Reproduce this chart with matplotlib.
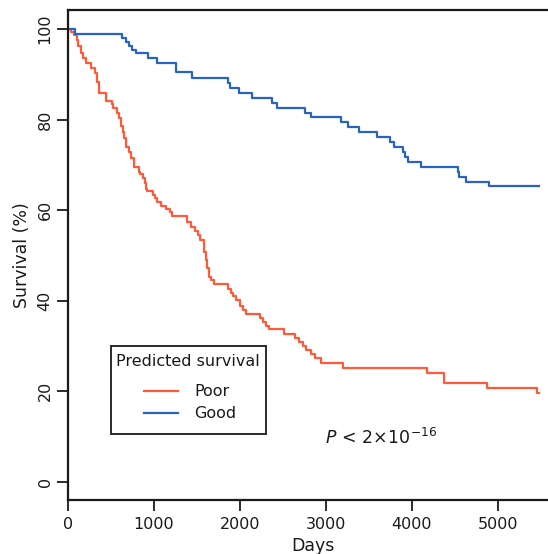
import matplotlib
matplotlib.use('Agg')
import matplotlib.pyplot as plt
import matplotlib.patches as mpatches
from matplotlib.lines import Line2D

# Kaplan-Meier curves (days, survival %)
good_days = [0, 81, 628, 669, 715, 750, 785, 930, 1035, 1256, 1442, 1860, 1884,
             1992, 2143, 2376, 2434, 2756, 2822, 3174, 3256, 3387, 3590, 3744,
             3791, 3899, 3919, 3950, 4105, 4531, 4550, 4624, 4895, 5480]
good_surv = [100, 99.0, 98.0, 97.1, 96.2, 95.4, 94.6, 93.5, 92.5, 90.4, 89.1,
             88.0, 86.9, 85.8, 84.8, 83.6, 82.6, 81.5, 80.5, 79.4, 78.4, 77.2,
             76.2, 75.1, 74.0, 72.8, 71.8, 70.6, 69.6, 68.5, 67.4, 66.3, 65.3, 65.3]

poor_days = [0, 31, 70, 101, 120, 148, 178, 206, 264, 314, 341, 364, 442, 508,
             527, 564, 593, 622, 640, 651, 678, 713, 738, 767, 831, 843, 869,
             890, 907, 922, 994, 1017, 1038, 1076, 1143, 1186, 1213, 1378, 1428,
             1477, 1508, 1535, 1576, 1585, 1605, 1620, 1640, 1663, 1692, 1866,
             1895, 1924, 1959, 2000, 2038, 2073, 2227, 2267, 2308, 2343, 2512,
             2645, 2690, 2727, 2773, 2820, 2872, 2942, 3194, 4169, 4378, 4878,
             5459, 5477]
poor_surv = [100, 99.3, 98.7, 97.6, 96.2, 94.7, 93.5, 92.5, 91.3, 90.2, 88.3,
             85.9, 84.0, 83.4, 82.5, 81.4, 80.3, 78.5, 77.2, 75.9, 74.0, 72.9,
             71.5, 69.6, 68.5, 68.0, 67.0, 66.0, 64.7, 64.2, 63.4, 62.6, 61.8,
             61.0, 60.3, 59.5, 58.7, 57.3, 56.3, 55.5, 54.5, 53.4, 53.0, 50.8,
             49.0, 47.2, 45.3, 44.5, 43.6, 42.6, 41.7, 41.1, 40.2, 38.9, 38.0,
             37.1, 36.1, 35.3, 34.5, 33.7, 32.7, 31.7, 30.9, 30.0, 29.1, 28.3,
             27.3, 26.2, 25.1, 24.0, 21.9, 20.7, 19.6, 19.6]

x_ticks = [0, 1000, 2000, 3000, 4000, 5000]
y_ticks = [0, 20, 40, 60, 80, 100]

RED = '#FF5A3A'
BLUE = '#2A62C0'
INK = '#1a1a1a'
W, H = 548, 554

plt.rcParams['font.family'] = 'DejaVu Sans'

fig = plt.figure(figsize=(W / 100, H / 100), dpi=100)
fig.patch.set_facecolor('white')

# plot region: x 68..558 px, y 10..500 px (right edge runs off the image)
ax = fig.add_axes([68 / W, 1 - 500 / H, 490 / W, 490 / H])
ax.set_facecolor('white')

ax.step(poor_days, poor_surv, where='post', color=RED, lw=1.6)
ax.step(good_days, good_surv, where='post', color=BLUE, lw=1.6)

ax.set_xlim(0, 5698)
ax.set_ylim(-4.0, 104.2)

ax.set_xticks(x_ticks)
ax.set_xticklabels([str(v) for v in x_ticks], fontsize=11.5, color=INK)
ax.set_yticks(y_ticks)
ax.set_yticklabels([str(v) for v in y_ticks], fontsize=11.5, rotation=90,
                   va='center', color=INK)
ax.tick_params(axis='both', direction='out', length=8, width=1.3, color=INK)
ax.tick_params(axis='x', pad=4)
ax.tick_params(axis='y', pad=3)

for side in ['left', 'top', 'bottom', 'right']:
    ax.spines[side].set_linewidth(1.6)
    ax.spines[side].set_color(INK)

ax.set_ylabel('Survival (%)', fontsize=12.5, labelpad=5, color=INK)
ax.set_xlabel('Days', fontsize=12.5, labelpad=4, color=INK)


def fx(x):
    return x / W


def fy(y):
    return 1 - y / H


# legend box drawn by hand to mimic the R layout
box = mpatches.Rectangle((fx(111), fy(434)), fx(266) - fx(111), fy(346) - fy(434),
                         transform=fig.transFigure, fill=False,
                         edgecolor=INK, lw=1.3)
fig.patches.append(box)
fig.text(fx(116), fy(362), 'Predicted survival', fontsize=11.5,
         ha='left', va='center', color=INK)
for yy, col, lab in [(391, RED, 'Poor'), (413, BLUE, 'Good')]:
    fig.add_artist(Line2D([fx(144), fx(178)], [fy(yy), fy(yy)],
                          transform=fig.transFigure, color=col, lw=1.6))
    fig.text(fx(194), fy(yy), lab, fontsize=11.5, ha='left', va='center',
             color=INK)

ax.text(2990, 9.6, r'$P$ < $2\!\times\!10^{-16}$', fontsize=12.5,
        ha='left', va='center', color=INK)

plt.savefig('out.png', dpi=100, facecolor=fig.get_facecolor())
